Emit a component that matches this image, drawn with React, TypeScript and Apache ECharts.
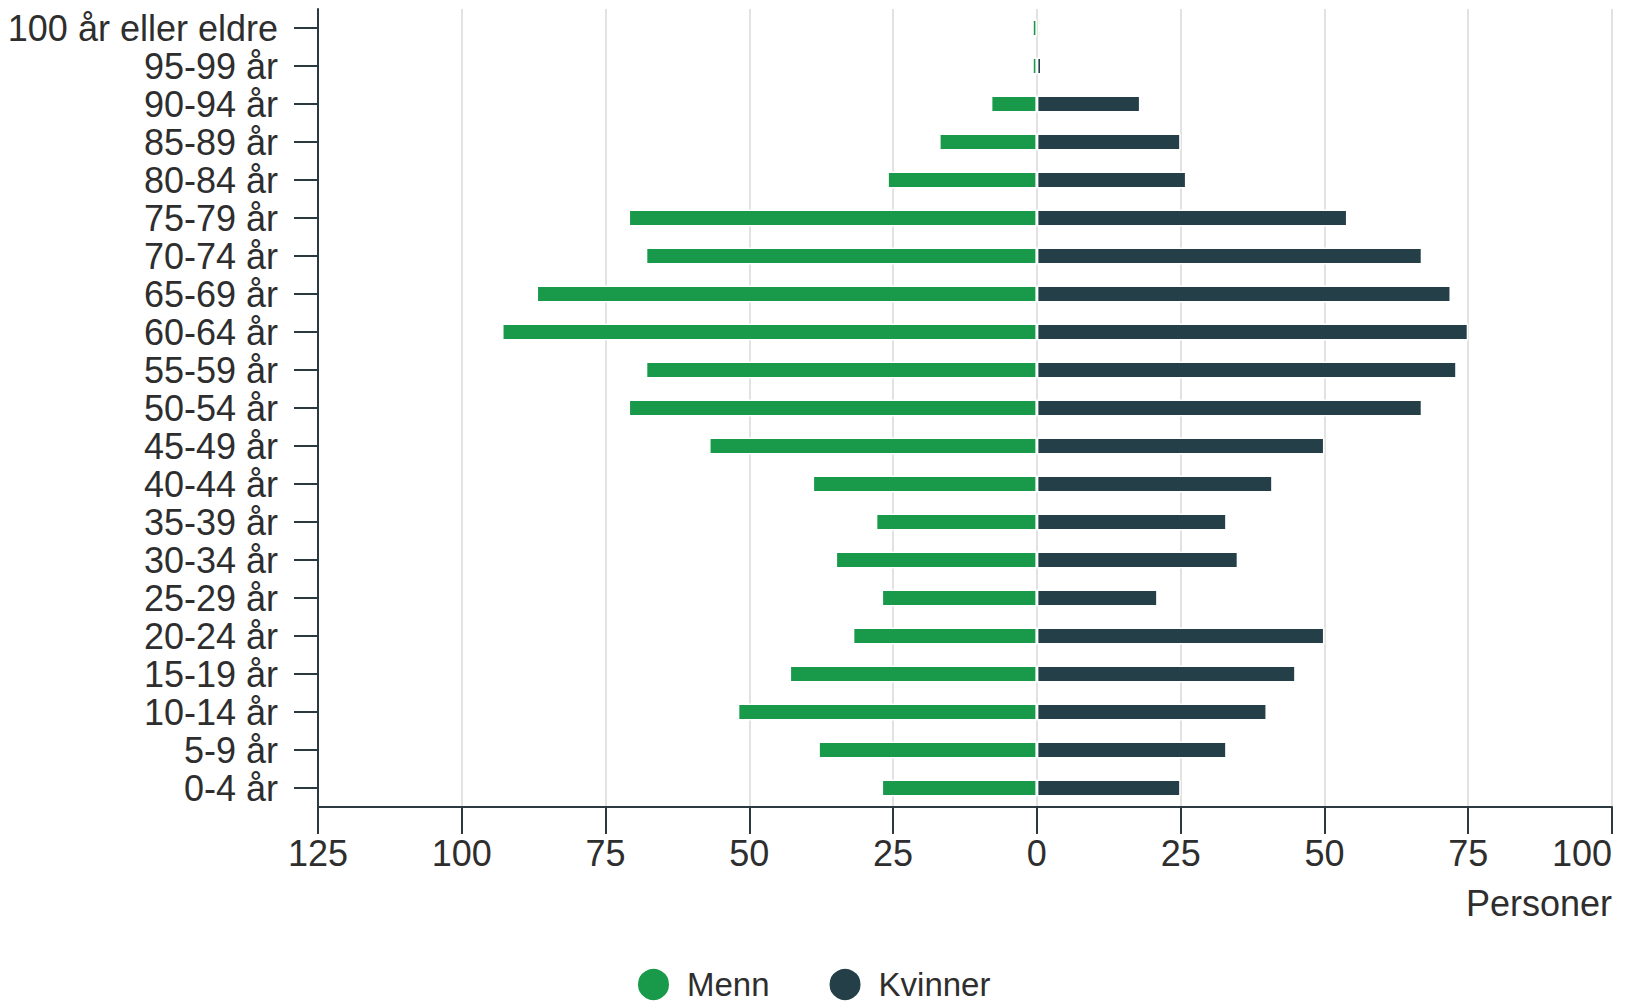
import React, { useEffect, useRef } from "react";
import * as echarts from "echarts";

const categories = [
  "0-4 år", "5-9 år", "10-14 år", "15-19 år", "20-24 år", "25-29 år", "30-34 år",
  "35-39 år", "40-44 år", "45-49 år", "50-54 år", "55-59 år", "60-64 år", "65-69 år",
  "70-74 år", "75-79 år", "80-84 år", "85-89 år", "90-94 år", "95-99 år", "100 år eller eldre",
];
const menn = [27, 38, 52, 43, 32, 27, 35, 28, 39, 57, 71, 68, 93, 87, 68, 71, 26, 17, 8, 0.8, 0.8];
const kvinner = [25, 33, 40, 45, 50, 21, 35, 33, 41, 50, 67, 73, 75, 72, 67, 54, 26, 25, 18, 0.8, 0];
const xTicks = { min: -125, max: 100, interval: 25 };

const GREEN = "#19994a";
const DARK = "#253f48";
const TEXT = "#2e2e2e";
const FONT = "Liberation Sans, Arial, sans-serif";
const FS = 36;

export default function App() {
  const ref = useRef<HTMLDivElement>(null);
  useEffect(() => {
    const chart = echarts.init(ref.current!, null, { renderer: "svg" });
    chart.setOption({
      animation: false,
      textStyle: { fontFamily: FONT },
      grid: {
        left: 318,
        right: 13,
        top: 9,
        bottom: 197,
        containLabel: false,
        outerBoundsMode: "none",
      },
      legend: {
        data: ["Menn", "Kvinner"],
        left: 636,
        top: 967,
        padding: 0,
        icon: "circle",
        itemWidth: 33,
        itemHeight: 33,
        itemGap: 58,
        textStyle: {
          fontSize: 33,
          lineHeight: 33,
          color: TEXT,
          fontFamily: FONT,
          padding: [0, 0, 0, 12],
        },
      },
      xAxis: {
        type: "value",
        min: xTicks.min,
        max: xTicks.max,
        interval: xTicks.interval,
        axisLine: { show: true, lineStyle: { color: "#2b3a40", width: 2 } },
        axisTick: { show: true, length: 27, lineStyle: { color: "#2b3a40", width: 2 } },
        axisLabel: {
          fontSize: FS,
          color: TEXT,
          margin: 28,
          fontFamily: FONT,
          alignMaxLabel: "right",
          formatter: (v: number) => String(Math.abs(v)),
        },
        splitLine: { show: true, lineStyle: { color: "#e2e2e2", width: 2 } },
      },
      yAxis: {
        type: "category",
        data: categories,
        axisLine: { show: true, onZero: false, lineStyle: { color: "#2b3a40", width: 2 } },
        axisTick: { show: true, alignWithLabel: true, length: 24, lineStyle: { color: "#2b3a40", width: 2 } },
        axisLabel: { fontSize: FS, color: TEXT, margin: 40, fontFamily: FONT, interval: 0 },
      },
      graphic: [
        {
          type: "text",
          right: 13,
          top: 885,
          style: { text: "Personer", fontSize: FS, fill: TEXT, fontFamily: FONT },
        },
      ],
      series: [
        {
          name: "Menn",
          type: "bar",
          stack: "total",
          barWidth: 17,
          data: menn.map((v) => -v),
          itemStyle: { color: GREEN, borderColor: "#ffffff", borderWidth: 1.5 },
        },
        {
          name: "Kvinner",
          type: "bar",
          stack: "total",
          barWidth: 17,
          data: kvinner,
          itemStyle: { color: DARK, borderColor: "#ffffff", borderWidth: 1.5 },
        },
      ],
    });
    return () => chart.dispose();
  }, []);
  return (
    <div
      ref={ref}
      style={{ position: "fixed", left: 0, top: 0, width: 1625, height: 1004, background: "#fff" }}
    />
  );
}
